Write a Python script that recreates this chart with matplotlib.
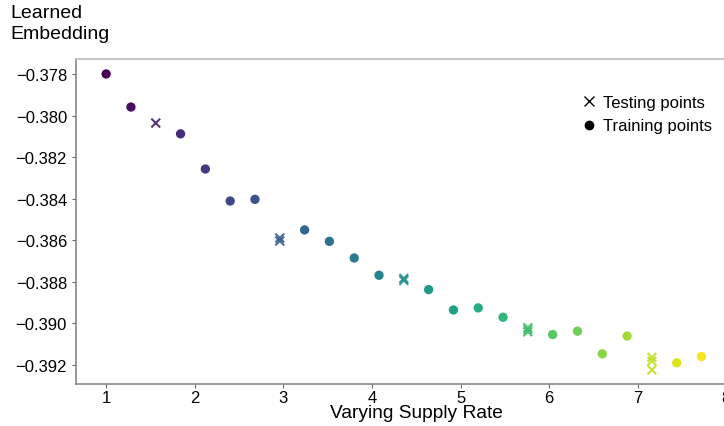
import numpy as np
import matplotlib
matplotlib.use("Agg")
import matplotlib.pyplot as plt
from matplotlib.lines import Line2D

plt.rcParams["font.family"] = ["Liberation Sans", "DejaVu Sans"]

# training points (supply rate, learned embedding)
train_x = [1.00, 1.28, 1.84, 2.12, 2.40, 2.68, 3.24, 3.52, 3.80, 4.08,
           4.64, 4.92, 5.20, 5.48, 6.04, 6.32, 6.60, 6.88, 7.44, 7.72]
train_y = [-0.37800, -0.37959, -0.38088, -0.38257, -0.38411, -0.38403,
           -0.38550, -0.38605, -0.38685, -0.38768, -0.38837, -0.38935,
           -0.38925, -0.38970, -0.39053, -0.39037, -0.39146, -0.39060,
           -0.39189, -0.39159]

# testing points (several per held-out rate)
test_x = [1.56, 2.96, 2.96, 4.36, 4.36, 5.76, 5.76, 5.76, 7.16, 7.16, 7.16]
test_y = [-0.38036, -0.38589, -0.38603, -0.38783, -0.38793,
          -0.39020, -0.39030, -0.39040, -0.39163, -0.39181, -0.39223]

x_ticks = [1, 2, 3, 4, 5, 6, 7, 8]
y_ticks = [-0.378, -0.380, -0.382, -0.384, -0.386, -0.388, -0.390, -0.392]

fig = plt.figure(figsize=(7.24, 4.27), dpi=100)
# axes run past the right edge of the figure, as in the original crop
ax = fig.add_axes([76 / 724, 42 / 427, 680 / 724, 325 / 427])

norm = plt.Normalize(1.0, 7.8)
ax.scatter(train_x, train_y, c=train_x, cmap="viridis", norm=norm, s=45,
           marker="o", edgecolors="none")
ax.scatter(test_x, test_y, c=test_x, cmap="viridis", norm=norm, s=40,
           marker="x", linewidths=1.5, alpha=0.9)

ax.set_xlim(0.66, 8.335)
ax.set_ylim(-0.39291, -0.37728)
ax.set_xticks(x_ticks)
ax.set_yticks(y_ticks)
ax.set_xticklabels([str(t) for t in x_ticks])
ax.set_yticklabels(["\u2212%.3f" % abs(t) for t in y_ticks])
ax.tick_params(labelsize=12, length=3, width=0.8, color="#666666")
ax.tick_params(axis="x", pad=1.5)

for side in ["top", "right"]:
    ax.spines[side].set_color("#bbbbbb")
for side in ["left", "bottom"]:
    ax.spines[side].set_color("#888888")
for sp in ax.spines.values():
    sp.set_linewidth(1.2)

ax.set_xlabel("Varying Supply Rate", fontsize=13.8, labelpad=-1)
fig.text(10 / 724, 1 - 5 / 427, "Learned\nEmbedding", fontsize=14,
         ha="left", va="top", linespacing=1.3)

handles = [
    Line2D([], [], marker="x", color="black", linestyle="none",
           markersize=7, markeredgewidth=1.0, label="Testing points"),
    Line2D([], [], marker="o", color="black", linestyle="none",
           markersize=6, label="Training points"),
]
fig.legend(handles=handles, loc="upper left",
           bbox_to_anchor=(561 / 724, 1 - 81 / 427), frameon=False,
           fontsize=12, handletextpad=0.1, handlelength=1.5,
           labelspacing=0.5)

fig.savefig("out.png", dpi=100)
